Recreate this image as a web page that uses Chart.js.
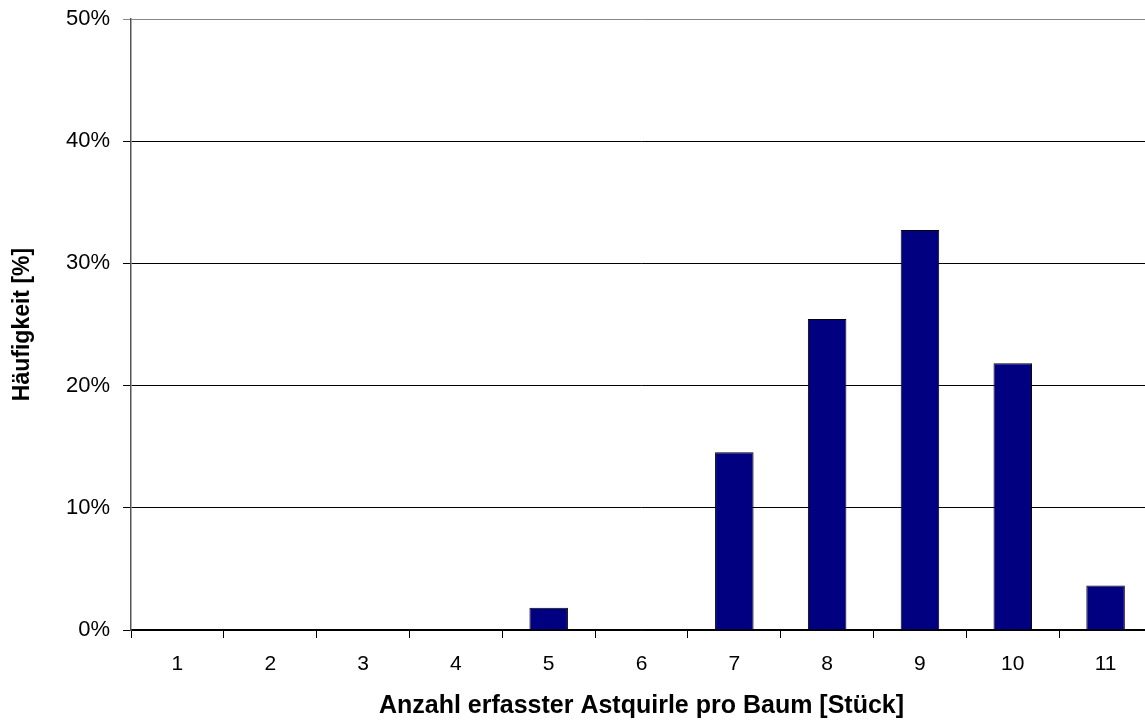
<!DOCTYPE html>
<html>
<head>
<meta charset="utf-8">
<script src="https://cdn.jsdelivr.net/npm/chart.js@4"></script>
<style>
  body { margin: 0; overflow: hidden; background: #fff; }
  #chart { display: block; }
</style>
</head>
<body>
<canvas id="chart" width="1160" height="722"></canvas>
<script>
const categories = ['1', '2', '3', '4', '5', '6', '7', '8', '9', '10', '11'];
const haeufigkeit = [0, 0, 0, 0, 1.82, 0, 14.55, 25.45, 32.73, 21.82, 3.64];
const yTicks = [0, 10, 20, 30, 40, 50];

const font = "'Liberation Sans', Arial, sans-serif";

new Chart(document.getElementById('chart').getContext('2d'), {
    type: 'bar',
    data: {
        labels: categories,
        datasets: [{
            label: 'Häufigkeit',
            data: haeufigkeit,
            backgroundColor: '#000080',
            borderColor: '#000000',
            borderWidth: 1,
            barPercentage: 0.415,
            categoryPercentage: 1
        }]
    },
    options: {
        responsive: false,
        animation: false,
        layout: { padding: { top: 19, right: 8, left: 0, bottom: 0 } },
        plugins: {
            legend: { display: false },
            tooltip: { enabled: false }
        },
        scales: {
            x: {
                offset: true,
                grid: {
                    offset: true,
                    drawOnChartArea: false,
                    color: '#000',
                    tickLength: 8
                },
                border: { color: '#000', width: 1.5 },
                ticks: { color: '#000', font: { family: font, size: 21 }, padding: 14, maxRotation: 0 },
                title: {
                    display: true,
                    text: 'Anzahl erfasster Astquirle pro Baum [Stück]',
                    color: '#000',
                    font: { family: font, size: 25, weight: 'bold' },
                    padding: { top: 0, bottom: 1 }
                },
                afterFit(scale) {
                    scale.height = 92;
                    scale.paddingLeft = 0;
                    scale.paddingRight = 0;
                }
            },
            y: {
                min: 0,
                max: 50,
                afterBuildTicks(scale) { scale.ticks = yTicks.map(v => ({ value: v })); },
                grid: {
                    color: ctx => (ctx.tick && ctx.tick.value === 50) ? '#888' : '#000',
                    lineWidth: 1,
                    tickLength: 8
                },
                border: { color: '#555', width: 1.5 },
                ticks: {
                    color: '#000',
                    font: { family: font, size: 22 },
                    padding: 13,
                    callback: v => v + '%'
                },
                title: {
                    display: true,
                    text: 'Häufigkeit [%]',
                    color: '#000',
                    font: { family: font, size: 23, weight: 'bold' },
                    padding: { top: 9, bottom: 0 }
                },
                afterFit(scale) {
                    scale.width = 131;
                    scale.paddingTop = 0;
                    scale.paddingBottom = 0;
                }
            }
        }
    }
});
</script>
</body>
</html>
